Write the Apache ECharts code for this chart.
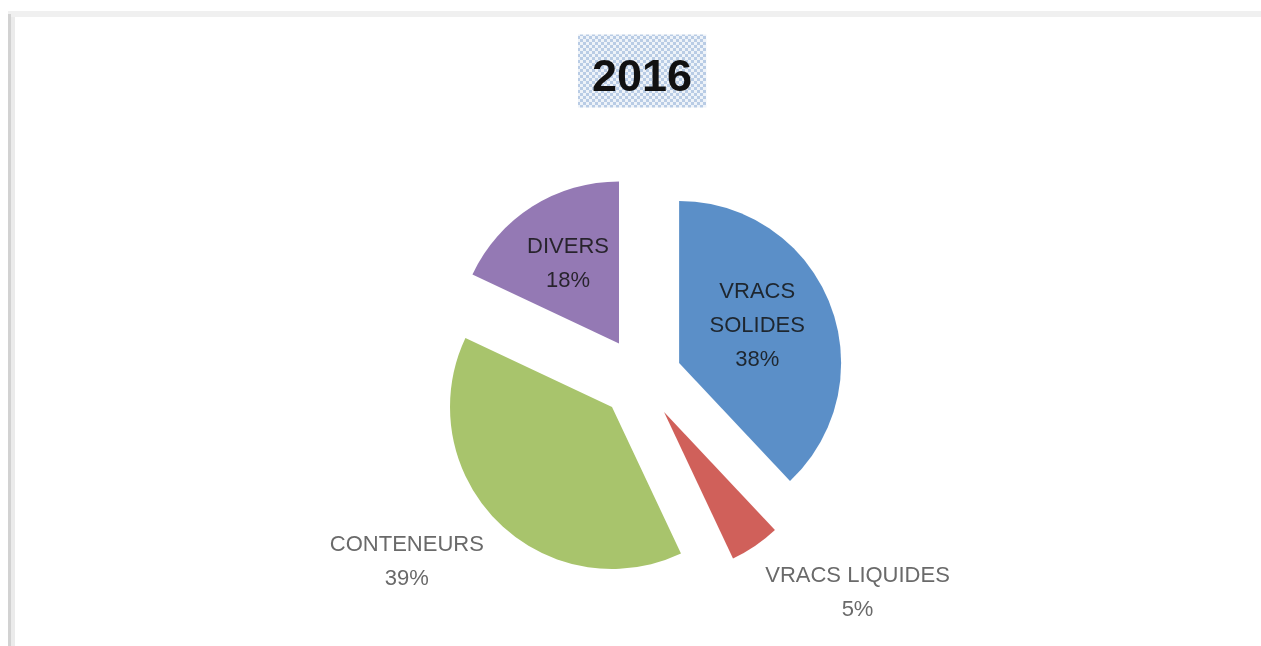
<!DOCTYPE html>
<html>
<head>
<meta charset="utf-8">
<script src="https://cdn.jsdelivr.net/npm/echarts@6/dist/echarts.min.js"></script>
<style>
  html, body { margin: 0; padding: 0; background: #fff; }
  #main { width: 1261px; height: 646px; }
</style>
</head>
<body>
<div id="main"></div>
<script>
// données du graphique
var categories = ['VRACS SOLIDES', 'VRACS LIQUIDES', 'CONTENEURS', 'DIVERS'];
var labelLines = [['VRACS', 'SOLIDES'], ['VRACS LIQUIDES'], ['CONTENEURS'], ['DIVERS']];
var values = [38, 5, 39, 18];
var colors = ['#5b8fc8', '#d0605a', '#a8c46c', '#9479b4'];
var titleText = '2016';

// position des etiquettes (style)
var labelPos = ['inside', 'outside', 'outside', 'inside'];
var labelPadding = [[0, 0, 12, 0], [70, 0, 0, 0], [60, 0, 0, 0], [0, 12, 18, 0]];
var labelBoxWidth = [110, 188, 160, 90];

/** motif du fond du titre */
function makePattern() {
    var c = document.createElement('canvas');
    c.width = 6;
    c.height = 6;
    var ctx = c.getContext('2d');
    ctx.fillStyle = '#eef3f9';
    ctx.fillRect(0, 0, 6, 6);
    ctx.fillStyle = '#b9cce5';
    ctx.fillRect(0, 0, 3, 3);
    ctx.fillRect(3, 3, 3, 3);
    return c;
}

var pieData = [];
for (var i = 0; i < categories.length; i++) {
    var inside = labelPos[i] == 'inside';
    var parts = labelLines[i].concat(['{d}%']);
    var fmt = parts.map(function (p) { return '{t|' + p + '}'; }).join('\n');
    pieData.push({
        name: categories[i],
        value: values[i],
        selected: true,
        itemStyle: { color: colors[i] },
        label: {
            position: labelPos[i],
            formatter: fmt,
            padding: labelPadding[i],
            rich: {
                t: {
                    fontFamily: 'Liberation Sans',
                    fontSize: 22,
                    lineHeight: 34,
                    width: labelBoxWidth[i],
                    align: 'center',
                    color: inside ? 'rgba(20,20,20,0.85)' : '#6a6a6a'
                }
            }
        },
        labelLine: { show: false }
    });
}

var chartDom = document.getElementById('main');
var myChart = echarts.init(chartDom);
var option;
option = {
    animation: false,
    backgroundColor: '#ffffff',
    title: {
        text: titleText,
        left: 578,
        top: 35,
        padding: [22, 14, 6, 14],
        backgroundColor: { image: makePattern(), repeat: 'repeat' },
        textStyle: {
            fontFamily: 'Liberation Sans',
            fontSize: 45,
            fontWeight: 'bold',
            color: '#111111',
            lineHeight: 44
        }
    },
    graphic: [
        { type: 'rect', shape: { x: 8, y: 11, width: 1253, height: 6 }, style: { fill: '#f0f0f0' }, silent: true },
        { type: 'rect', shape: { x: 8, y: 14, width: 3, height: 632 }, style: { fill: '#d2d2d2' }, silent: true },
        { type: 'rect', shape: { x: 11, y: 17, width: 4, height: 629 }, style: { fill: '#ebebeb' }, silent: true }
    ],
    series: [
        {
            type: 'pie',
            center: [641, 378],
            radius: 162,
            startAngle: 90,
            clockwise: true,
            avoidLabelOverlap: false,
            selectedMode: 'multiple',
            selectedOffset: 41,
            emphasis: { disabled: true },
            label: {
                fontFamily: 'Liberation Sans',
                fontSize: 22,
                distanceToLabelLine: 0
            },
            labelLine: { length: 15, length2: 0 },
            data: pieData
        }
    ]
};

option && myChart.setOption(option);
</script>
</body>
</html>
